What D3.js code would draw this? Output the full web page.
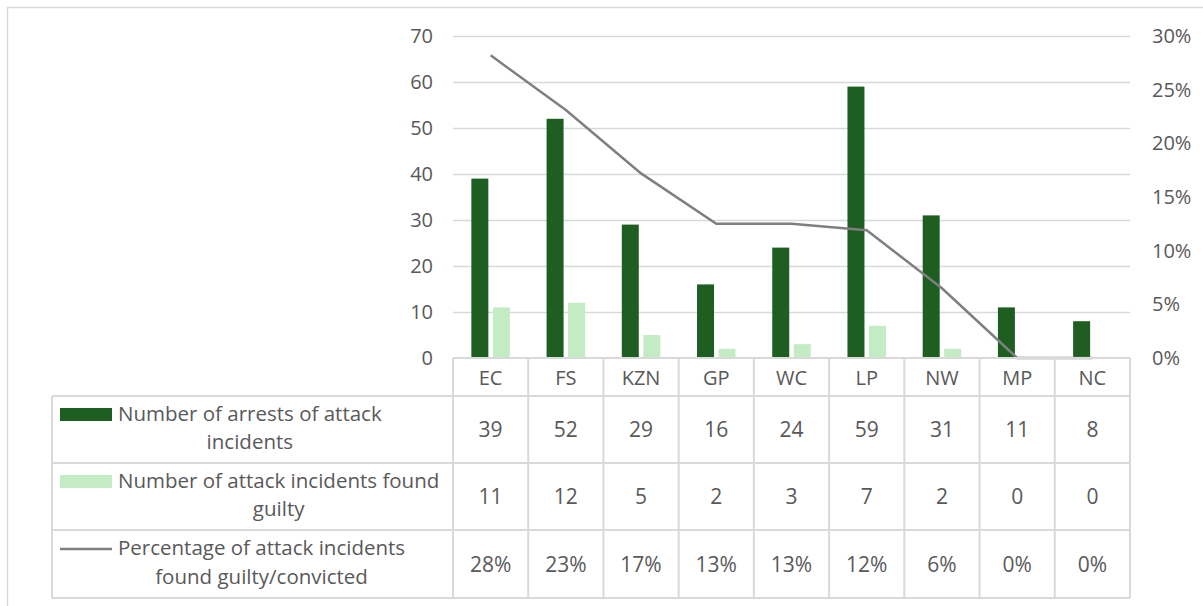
<!DOCTYPE html>
<html><head><meta charset="utf-8">
<script src="https://cdn.jsdelivr.net/npm/d3@7"></script>
<style>
html,body{margin:0;padding:0;background:#fff;}
svg{display:block;font-family:"Open Sans", "Noto Sans", sans-serif;}
</style></head>
<body>
<svg id="chart" width="1203" height="606"></svg>
<script>
const categories = ["EC","FS","KZN","GP","WC","LP","NW","MP","NC"];
const arrests = [39,52,29,16,24,59,31,11,8];
const guilty = [11,12,5,2,3,7,2,0,0];
const pct = [0.282,0.231,0.172,0.125,0.125,0.119,0.065,0,0];
const pctLabels = ["28%","23%","17%","13%","13%","12%","6%","0%","0%"];
const leftTicks = [0,10,20,30,40,50,60,70];
const rightTicks = [0,0.05,0.10,0.15,0.20,0.25,0.30];
const seriesNames = [
  ["Number of arrests of attack","incidents"],
  ["Number of attack incidents found","guilty"],
  ["Percentage of attack incidents","found guilty/convicted"]
];
const colors = {dark:"#1e5e20", light:"#c3ebc4", line:"#7f7f7f", grid:"#d9d9d9", text:"#595959"};
const FONT = "'Open Sans', 'Noto Sans', sans-serif";

const svg = d3.select("#chart");
// outer chart border
svg.append("rect").attr("x",7.5).attr("y",7.5).attr("width",1200).attr("height",610)
  .attr("fill","none").attr("stroke","#d9d9d9").attr("stroke-width",1.5);

const plotL = 453, plotR = 1130, plotT = 36, plotB = 358;
const x0 = d3.scaleBand().domain(categories).range([plotL, plotR]).padding(0);
const bw = x0.bandwidth();
const x1 = d3.scaleBand().domain(["a","g"]).range([bw*0.244, bw*0.756]).paddingInner(0.21);
const yL = d3.scaleLinear().domain([0,70]).range([plotB, plotT]);
const yR = d3.scaleLinear().domain([0,0.30]).range([plotB, plotT]);

// gridlines
svg.append("g").selectAll("line").data(leftTicks.filter(d=>d>0)).join("line")
  .attr("x1",plotL).attr("x2",plotR).attr("y1",d=>yL(d)+0.5).attr("y2",d=>yL(d)+0.5)
  .attr("stroke",colors.grid).attr("stroke-width",1.5);

// left axis labels
const axL = d3.axisLeft(yL).tickValues(leftTicks).tickSize(0).tickPadding(0).tickFormat(d3.format("d"));
const gL = svg.append("g").attr("transform",`translate(433,0)`).call(axL);
gL.select(".domain").remove();
gL.selectAll("text").attr("font-size",20).attr("fill",colors.text).attr("font-family",FONT);

// right axis labels
const axR = d3.axisRight(yR).tickValues(rightTicks).tickSize(0).tickPadding(0).tickFormat(d3.format(".0%"));
const gR = svg.append("g").attr("transform",`translate(1152,0)`).call(axR);
gR.select(".domain").remove();
gR.selectAll("text").attr("font-size",20).attr("fill",colors.text).attr("font-family",FONT);

// bars
const groups = svg.append("g").selectAll("g").data(categories).join("g")
  .attr("transform",d=>`translate(${x0(d)},0)`);
groups.append("rect").attr("x",x1("a")).attr("width",x1.bandwidth())
  .attr("y",(d,i)=>yL(arrests[i])).attr("height",(d,i)=>yL(0)-yL(arrests[i])).attr("fill",colors.dark);
groups.append("rect").attr("x",x1("g")).attr("width",x1.bandwidth())
  .attr("y",(d,i)=>yL(guilty[i])).attr("height",(d,i)=>yL(0)-yL(guilty[i])).attr("fill",colors.light);

// line
const line = d3.line().x((d,i)=>x0(categories[i])+bw/2).y(d=>yR(d));
svg.append("path").datum(pct).attr("d",line).attr("fill","none")
  .attr("stroke",colors.line).attr("stroke-width",2.5);

// data table
const tblL = 52;
const rowY = [358, 396, 463, 530, 598];
const tg = svg.append("g");
tg.append("line").attr("x1",plotL).attr("x2",plotR).attr("y1",rowY[0]).attr("y2",rowY[0])
  .attr("stroke",colors.grid).attr("stroke-width",2);
rowY.slice(1).forEach(y=>{
  tg.append("line").attr("x1",tblL).attr("x2",plotR).attr("y1",y).attr("y2",y)
    .attr("stroke",colors.grid).attr("stroke-width",2);
});
const vx = categories.map(c=>x0(c)).concat([plotR]);
vx.forEach(x=>{
  tg.append("line").attr("x1",x).attr("x2",x).attr("y1",rowY[0]).attr("y2",rowY[4])
    .attr("stroke",colors.grid).attr("stroke-width",2);
});
tg.append("line").attr("x1",tblL).attr("x2",tblL).attr("y1",rowY[1]).attr("y2",rowY[4])
  .attr("stroke",colors.grid).attr("stroke-width",2);

// category header
tg.selectAll("text.cat").data(categories).join("text").attr("class","cat")
  .attr("x",d=>x0(d)+bw/2).attr("y",384.5)
  .attr("text-anchor","middle").attr("font-size",20).attr("fill",colors.text).text(d=>d);

const rows = [arrests.map(String), guilty.map(String), pctLabels];
rows.forEach((vals,r)=>{
  const cy = (rowY[r+1]+rowY[r+2])/2;
  tg.selectAll(null).data(vals).join("text")
    .attr("x",(d,i)=>x0(categories[i])+bw/2).attr("y",cy+7.5)
    .attr("text-anchor","middle").attr("font-size",21).attr("fill",colors.text).text(d=>d);
  // legend key
  const keyY = cy - 15;
  if (r < 2) {
    tg.append("rect").attr("x",60).attr("y",keyY-6.5).attr("width",52).attr("height",13)
      .attr("fill", r===0?colors.dark:colors.light);
  } else {
    tg.append("line").attr("x1",60).attr("x2",112).attr("y1",keyY).attr("y2",keyY)
      .attr("stroke",colors.line).attr("stroke-width",2.5);
  }
  const t1 = tg.append("text").attr("x",118).attr("y",cy-8.8)
    .attr("font-size",20.5).attr("fill",colors.text).text(seriesNames[r][0]);
  const w = t1.node().getComputedTextLength();
  tg.append("text").attr("x",118+w/2).attr("y",cy+19.5)
    .attr("text-anchor","middle").attr("font-size",20.5).attr("fill",colors.text).text(seriesNames[r][1]);
});
</script>
</body></html>
